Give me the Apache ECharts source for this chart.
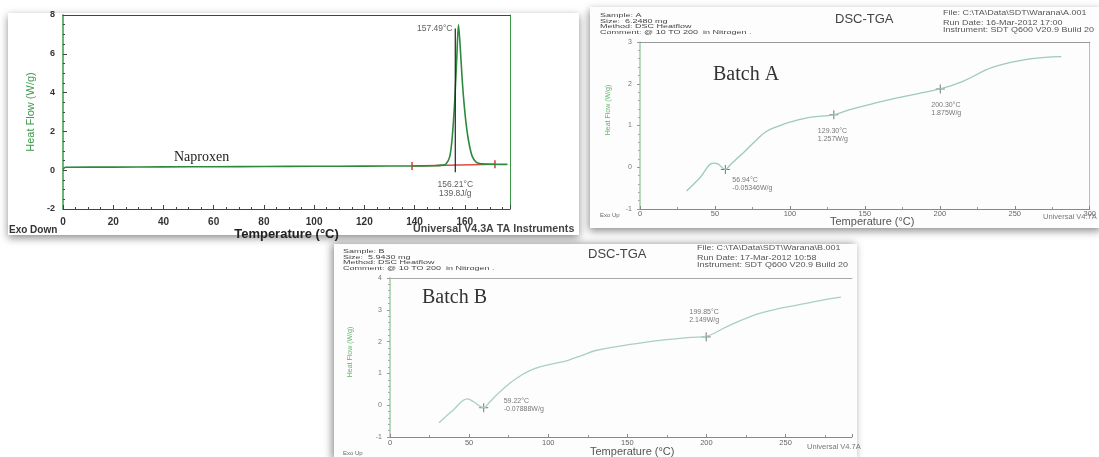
<!DOCTYPE html>
<html><head><meta charset="utf-8">
<script src="https://cdn.jsdelivr.net/npm/echarts@6/dist/echarts.min.js"></script>
<style>html,body{margin:0;padding:0;background:#fff}#c{width:1099px;height:457px}</style>
</head><body><div id="c"></div>
<script>
// ---------- Data ----------
// Naproxen DSC curve: [temperature °C, heat flow W/g]
const naproxenCurve = [[0,0.05],[1,0.15],[20,0.16],[40,0.17],[60,0.18],[80,0.19],[100,0.2],[120,0.21],[140,0.22],[148,0.23],[151,0.26],[152.5,0.32],[154,0.7],[155,1.7],[156,3.6],[156.8,5.8],[157.49,7.5],[158.2,6.3],[159,4.6],[159.8,3.3],[160.8,2.1],[161.8,1.3],[163,0.7],[164.5,0.42],[166,0.34],[170,0.31],[177,0.3]];
const naproxenBaseline = [[139,0.22],[172,0.31]];
const naproxenOnsetLine = [[156.21,-0.1],[156.21,7.3]];
const naproxenPeak = [157.49, 7.5];
const naproxenOnset = [156.21, 0.26];
const naproxenXTicks = [0, 20, 40, 60, 80, 100, 120, 140, 160];
const naproxenYTicks = [-2, 0, 2, 4, 6, 8];

// Batch A DSC-TGA curve
const batchACurve = [[31,-0.57],[40,-0.25],[49,0.1],[52,0.08],[56.94,-0.053],[60,0.05],[65,0.22],[70.5,0.4],[77,0.63],[84,0.85],[92,0.98],[101,1.09],[114,1.2],[129.3,1.257],[140,1.38],[155,1.52],[170,1.65],[185,1.76],[200.3,1.875],[215,2.05],[235,2.39],[257,2.58],[270,2.63],[281,2.65]];
const batchAMarks = [
  {value:[56.94,-0.05346], text:'56.94°C\n-0.05346W/g', offset:[7,-5]},
  {value:[129.3,1.257], text:'129.30°C\n1.257W/g', offset:[-16,0]},
  {value:[200.3,1.875], text:'200.30°C\n1.875W/g', offset:[-9,0]}
];
const batchAXTicks = [0, 50, 100, 150, 200, 250, 300];

// Batch B DSC-TGA curve
const batchBCurve = [[31,-0.55],[40,-0.15],[49,0.2],[53,0.1],[59.22,-0.079],[63,0.1],[68,0.35],[74,0.62],[80,0.85],[88,1.08],[96,1.22],[105,1.32],[113,1.42],[121,1.56],[130,1.72],[145,1.86],[160,1.97],[175,2.06],[190,2.13],[199.85,2.17],[212,2.45],[231,2.85],[247,3.05],[263,3.2],[275,3.32],[285,3.4]];
const batchBMarks = [
  {value:[59.22,-0.07888], text:'59.22°C\n-0.07888W/g', pos:'right', offset:[8,-3]},
  {value:[199.85,2.149], text:'199.85°C\n2.149W/g', pos:'top', offset:[-2,-1]}
];
const batchBXTicks = [0, 50, 100, 150, 200, 250];

// ---------- Chart ----------
const chart = echarts.init(document.getElementById('c'), null, {renderer:'canvas'});
const green = '#3a9a48', lightGreen = '#9ccfa3';
const F = 'Liberation Sans, Arial, sans-serif';
const SANS = '"Liberation Sans", Arial, sans-serif';
const SERIF = '"Liberation Serif", "Times New Roman", serif';

function cross(){ return 'path://M0,5L10,5M5,0L5,10'; }
function hiddenAxis(grid, min, max, pos, color){
  return {gridIndex:grid, type:'value', min:min, max:max, position:pos,
    axisLine:{show:!!color, onZero:false, lineStyle:{color:color||'#000'}},
    axisTick:{show:false}, axisLabel:{show:false}, splitLine:{show:false}};
}
function txt(x, y, text, font, fill, extra){
  return Object.assign({type:'text', x:x, y:y, z:10,
    style:Object.assign({text:text, font:font, fill:fill, textVerticalAlign:'top'}, (extra&&extra.style)||{})},
    extra&&extra.el||{});
}

const option = {
  backgroundColor: '#ffffff',
  animation: false,
  grid: [
    {left:63, top:15, width:447, height:194},
    {left:640, top:42, width:455, height:167},
    {left:390, top:278, width:462, height:159}
  ],
  xAxis: [
    {gridIndex:0, type:'value', min:0, max:178, interval:20,
     axisLine:{onZero:false, lineStyle:{color:'#444'}}, axisTick:{inside:true, length:4, lineStyle:{color:'#444'}},
     minorTick:{show:true, splitNumber:4, length:2, lineStyle:{color:'#444'}},
     axisLabel:{color:'#333', fontSize:10, fontWeight:'bold', fontFamily:F, margin:8,
       formatter:v=>naproxenXTicks.includes(v)?String(v):''},
     splitLine:{show:false},
     name:'Temperature (°C)', nameLocation:'middle', nameGap:16,
     nameTextStyle:{fontSize:13, fontWeight:'bold', color:'#222', fontFamily:F}},
    hiddenAxis(0, 0, 178, 'top', '#444'),
    {gridIndex:1, type:'value', min:0, max:300, interval:50,
     axisLine:{onZero:false, lineStyle:{color:'#888'}}, axisTick:{inside:true, length:3, lineStyle:{color:'#888'}},
     minorTick:{show:true, splitNumber:2, length:2, lineStyle:{color:'#999'}},
     axisLabel:{color:'#666', fontSize:7.5, fontFamily:F, margin:1,
       formatter:v=>batchAXTicks.includes(v)?String(v):''},
     splitLine:{show:false}},
    hiddenAxis(1, 0, 300, 'top', '#999'),
    {gridIndex:2, type:'value', min:0, max:292, interval:50,
     axisLine:{onZero:false, lineStyle:{color:'#888'}}, axisTick:{inside:true, length:3, lineStyle:{color:'#888'}},
     minorTick:{show:true, splitNumber:2, length:2, lineStyle:{color:'#999'}},
     axisLabel:{color:'#666', fontSize:7.5, fontFamily:F, margin:2,
       formatter:v=>batchBXTicks.includes(v)?String(v):''},
     splitLine:{show:false}},
    hiddenAxis(2, 0, 292, 'top', '#aaa')
  ],
  yAxis: [
    {gridIndex:0, type:'value', min:-2, max:8, interval:2,
     axisLine:{onZero:false, lineStyle:{color:green, width:1.5}}, axisTick:{inside:true, length:4, lineStyle:{color:'#444'}},
     minorTick:{show:true, splitNumber:4, length:2, lineStyle:{color:'#444'}},
     axisLabel:{color:'#333', fontSize:9, fontWeight:'bold', fontFamily:F, margin:8,
       formatter:v=>naproxenYTicks.includes(v)?String(v):''},
     splitLine:{show:false},
     name:'Heat Flow (W/g)', nameLocation:'middle', nameGap:27, nameRotate:90,
     nameTextStyle:{fontSize:11, color:green, fontFamily:F}},
    hiddenAxis(0, -2, 8, 'right', green),
    {gridIndex:1, type:'value', min:-1, max:3, interval:1,
     axisLine:{onZero:false, lineStyle:{color:lightGreen, width:1.5}}, axisTick:{length:3, lineStyle:{color:'#999'}},
     minorTick:{show:true, splitNumber:5, length:2, lineStyle:{color:'#aaa'}},
     axisLabel:{color:'#777', fontSize:7, fontFamily:F, margin:8},
     splitLine:{show:false}},
    hiddenAxis(1, -1, 3, 'right', lightGreen),
    {gridIndex:2, type:'value', min:-1, max:4, interval:1,
     axisLine:{onZero:false, lineStyle:{color:lightGreen, width:1.5}}, axisTick:{length:3, lineStyle:{color:'#999'}},
     minorTick:{show:true, splitNumber:5, length:2, lineStyle:{color:'#aaa'}},
     axisLabel:{color:'#777', fontSize:7, fontFamily:F, margin:8},
     splitLine:{show:false}},
    hiddenAxis(2, -1, 4, 'right', null)
  ],
  series: [
    {type:'line', xAxisIndex:0, yAxisIndex:0, data:naproxenBaseline, showSymbol:true,
     symbol:'rect', symbolSize:[1.5,8], itemStyle:{color:'#d93a3a'},
     lineStyle:{color:'#e04848', width:1.5}, z:3},
    {type:'line', xAxisIndex:0, yAxisIndex:0, data:naproxenCurve, showSymbol:false, smooth:0.3,
     lineStyle:{color:'#2d8a3c', width:1.6}, z:4},
    {type:'line', xAxisIndex:0, yAxisIndex:0, data:naproxenOnsetLine, showSymbol:false,
     lineStyle:{color:'#222', width:1.2}, z:5},
    {type:'scatter', xAxisIndex:0, yAxisIndex:0, symbolSize:0,
     data:[{value:naproxenPeak, label:{show:true, position:'left', distance:6, formatter:'157.49°C', offset:[0,4]}},
           {value:naproxenOnset, label:{show:true, position:'bottom', distance:15, formatter:'156.21°C\n139.8J/g', lineHeight:9}}],
     label:{color:'#333', fontSize:8.5, fontFamily:F}, z:6},
    {type:'line', xAxisIndex:2, yAxisIndex:2, data:batchACurve, showSymbol:false, smooth:0.4,
     lineStyle:{color:'#9cc9c0', width:1.3}},
    {type:'scatter', xAxisIndex:2, yAxisIndex:2, symbol:cross(), symbolSize:9,
     itemStyle:{color:'none', borderColor:'#555', borderWidth:1},
     data:batchAMarks.map(m=>({value:m.value, label:{formatter:m.text, offset:m.offset}})),
     label:{show:true, position:'bottom', align:'left', color:'#555', fontSize:7, lineHeight:8, fontFamily:F}},
    {type:'line', xAxisIndex:4, yAxisIndex:4, data:batchBCurve, showSymbol:false, smooth:0.4,
     lineStyle:{color:'#a9cfc6', width:1.3}},
    {type:'scatter', xAxisIndex:4, yAxisIndex:4, symbol:cross(), symbolSize:9,
     itemStyle:{color:'none', borderColor:'#555', borderWidth:1},
     data:batchBMarks.map(m=>({value:m.value, label:{formatter:m.text, position:m.pos, offset:m.offset}})),
     label:{show:true, color:'#555', fontSize:7, lineHeight:8, fontFamily:F}}
  ],
  graphic: [
    // cards with shadows
    {type:'rect', z:-10, shape:{x:8,y:13,width:571,height:222},
     style:{fill:'#fff', shadowBlur:8, shadowColor:'rgba(0,0,0,0.45)', shadowOffsetX:0, shadowOffsetY:3}},
    {type:'rect', z:-10, shape:{x:590,y:7,width:512,height:221},
     style:{fill:'#fdfdfd', shadowBlur:8, shadowColor:'rgba(0,0,0,0.45)', shadowOffsetX:-1, shadowOffsetY:3}},
    {type:'rect', z:-10, shape:{x:334,y:244,width:523,height:216},
     style:{fill:'#fdfdfd', shadowBlur:8, shadowColor:'rgba(0,0,0,0.45)', shadowOffsetX:-2, shadowOffsetY:0}},
    // panel 1 texts
    txt(174, 150, 'Naproxen', '14px '+SERIF, '#222'),
    txt(9, 225, 'Exo Down', 'bold 10px '+SANS, '#333'),
    txt(413, 224, 'Universal V4.3A TA Instruments', 'bold 10.7px '+SANS, '#444'),
    // panel A texts
    txt(600, 13, 'Sample: A\nSize:  6.2480 mg\nMethod: DSC Heatflow\nComment: @ 10 TO 200  in Nitrogen .', '9px '+SANS, '#444', {style:{lineHeight:8.5}, el:{scaleY:0.65}}),
    txt(835, 13, 'DSC-TGA', '13px '+SANS, '#444'),
    txt(943, 9, 'File: C:\\TA\\Data\\SDT\\Warana\\A.001', '9px '+SANS, '#555', {el:{scaleY:0.8}}),
    txt(943, 20, 'Run Date: 16-Mar-2012 17:00\nInstrument: SDT Q600 V20.9 Build 20', '9px '+SANS, '#555', {style:{lineHeight:8}, el:{scaleY:0.8}}),
    txt(713, 65, 'Batch A', '20px '+SERIF, '#333'),
    txt(608, 110, 'Heat Flow (W/g)', '7px '+SANS, '#5fb56a', {style:{textAlign:'center', textVerticalAlign:'middle'}, el:{rotation:Math.PI/2}}),
    txt(830, 216, 'Temperature (°C)', '11px '+SANS, '#555'),
    txt(600, 212, 'Exo Up', '6px '+SANS, '#666'),
    txt(1043, 213, 'Universal V4.7A', '7.5px '+SANS, '#777'),
    // panel B texts
    txt(343, 249, 'Sample: B\nSize:  5.9430 mg\nMethod: DSC Heatflow\nComment: @ 10 TO 200  in Nitrogen .', '9px '+SANS, '#444', {style:{lineHeight:8.5}, el:{scaleY:0.65}}),
    txt(588, 248, 'DSC-TGA', '13px '+SANS, '#444'),
    txt(697, 244, 'File: C:\\TA\\Data\\SDT\\Warana\\B.001', '9px '+SANS, '#555', {el:{scaleY:0.8}}),
    txt(697, 255, 'Run Date: 17-Mar-2012 10:58\nInstrument: SDT Q600 V20.9 Build 20', '9px '+SANS, '#555', {style:{lineHeight:8}, el:{scaleY:0.8}}),
    txt(422, 288, 'Batch B', '20px '+SERIF, '#333'),
    txt(350, 352, 'Heat Flow (W/g)', '7px '+SANS, '#5fb56a', {style:{textAlign:'center', textVerticalAlign:'middle'}, el:{rotation:Math.PI/2}}),
    txt(590, 446, 'Temperature (°C)', '11px '+SANS, '#555'),
    txt(343, 450, 'Exo Up', '6px '+SANS, '#666'),
    txt(807, 443, 'Universal V4.7A', '7.5px '+SANS, '#777')
  ]
};
chart.setOption(option);
</script></body></html>
